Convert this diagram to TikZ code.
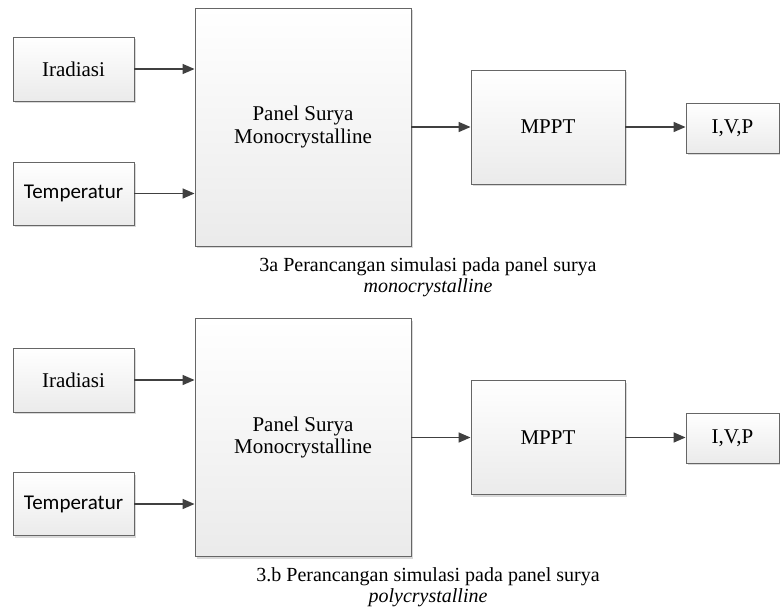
\documentclass[tikz,border=0pt]{standalone}
\usepackage{fontspec}
\setmainfont{Liberation Serif}
\newfontfamily\calfont{Carlito}
\usetikzlibrary{arrows.meta,shadows}

\begin{document}
\begin{tikzpicture}[
        x=1pt, y=-1pt,
        every node/.style={font=\fontsize{21}{22.5}\selectfont, align=center, inner sep=0pt},
        blok/.style={draw=black!60, line width=0.9pt, top color=white, bottom color=black!8,
            drop shadow={shadow xshift=2pt, shadow yshift=-2pt, opacity=0.25, fill=black!60}},
        panah/.style={draw=black!75, line width=1.5pt, -{Triangle[length=12pt,width=10pt]}},
        keterangan/.style={font=\fontsize{20}{21}\selectfont}
    ]
    \useasboundingbox (0,0) rectangle (780,613);

    % 3a monocrystalline
    \node[blok, minimum width=121pt, minimum height=64pt] (ira1) at (73.5,69) {Iradiasi};
    \node[blok, minimum width=121pt, minimum height=63pt] (tem1) at (73.5,193.5) {\calfont Temperatur};
    \node[blok, minimum width=216pt, minimum height=238pt] (pnl1) at (303,127) {Panel Surya\\Monocrystalline};
    \node[blok, minimum width=154pt, minimum height=114pt] (mppt1) at (548,127) {MPPT};
    \node[blok, minimum width=93pt, minimum height=50pt] (ivp1) at (732.5,128) {I,V,P};
    \node[keterangan] (cap1) at (428,277) {3a Perancangan simulasi pada panel surya\\\textit{monocrystalline}};

    \draw[panah] (ira1.east) -- (ira1.east -| pnl1.west);
    \draw[panah] (tem1.east) -- (tem1.east -| pnl1.west);
    \draw[panah] (pnl1.east |- mppt1.west) -- (mppt1.west);
    \draw[panah] (mppt1.east) -- (mppt1.east -| ivp1.west);

    % 3b polycrystalline
    \node[blok, minimum width=121pt, minimum height=64pt] (ira2) at (73.5,380) {Iradiasi};
    \node[blok, minimum width=121pt, minimum height=63pt] (tem2) at (73.5,504) {\calfont Temperatur};
    \node[blok, minimum width=216pt, minimum height=238pt] (pnl2) at (303,437.5) {Panel Surya\\Monocrystalline};
    \node[blok, minimum width=154pt, minimum height=114pt] (mppt2) at (548,437.5) {MPPT};
    \node[blok, minimum width=93pt, minimum height=50pt] (ivp2) at (732.5,438) {I,V,P};
    \node[keterangan] (cap2) at (428,587) {3.b Perancangan simulasi pada panel surya\\\textit{polycrystalline}};

    \draw[panah] (ira2.east) -- (ira2.east -| pnl2.west);
    \draw[panah] (tem2.east) -- (tem2.east -| pnl2.west);
    \draw[panah] (pnl2.east |- mppt2.west) -- (mppt2.west);
    \draw[panah] (mppt2.east) -- (mppt2.east -| ivp2.west);
\end{tikzpicture}
\end{document}
